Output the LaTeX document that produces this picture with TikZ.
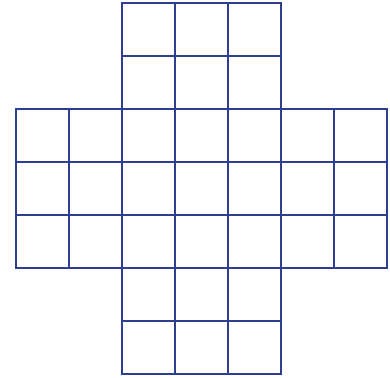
\documentclass[tikz,border=0pt]{standalone}
\definecolor{gridblue}{HTML}{2C3F92}
\begin{document}
\begin{tikzpicture}[x=0.75pt,y=-0.75pt,cell/.style={draw=gridblue,line width=2.2pt}]
\useasboundingbox (0,0) rectangle (390,378);
% top block: 3 columns x 2 rows
\foreach \c in {0,1,2} \foreach \r in {0,1}
  \draw[cell] ({122+53*\c},{3+53*\r}) rectangle ++(53,53);
% middle block: 7 columns x 3 rows
\foreach \c in {0,...,6} \foreach \r in {2,3,4}
  \draw[cell] ({16+53*\c},{3+53*\r}) rectangle ++(53,53);
% bottom block: 3 columns x 2 rows
\foreach \c in {0,1,2} \foreach \r in {5,6}
  \draw[cell] ({122+53*\c},{3+53*\r}) rectangle ++(53,53);
\end{tikzpicture}
\end{document}
